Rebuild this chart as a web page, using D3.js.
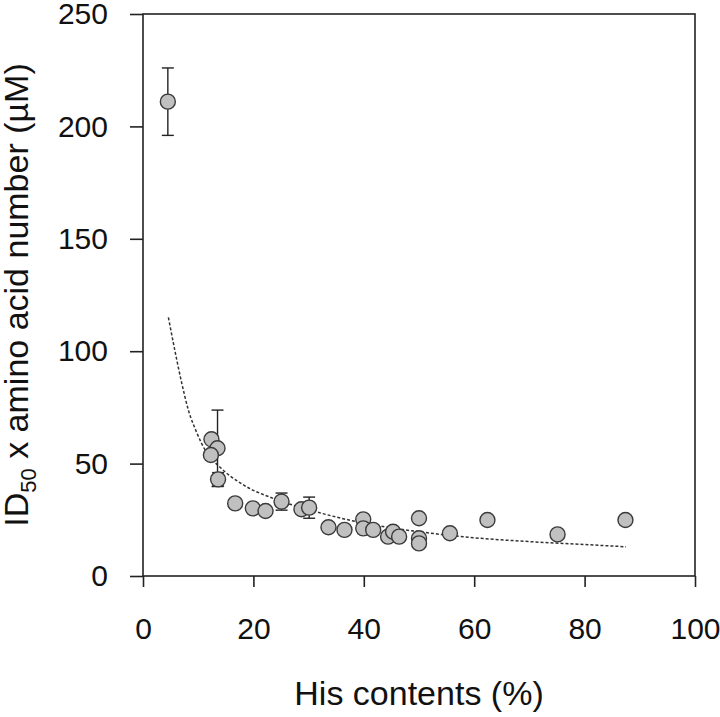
<!DOCTYPE html>
<html lang="en">
<head>
<meta charset="UTF-8">
<title>ID50 vs His contents</title>
<script src="https://d3js.org/d3.v7.min.js"></script>
<style>
    body { margin: 0; background: #fff; }
    text { font-family: "Liberation Sans", Arial, sans-serif; fill: #111; }
    .frame { fill: none; stroke: #222; stroke-width: 1.6px; }
    .dot { fill: #c0c0c0; stroke: #3a3a3a; stroke-width: 1.4px; }
    .err { stroke: #222; stroke-width: 1.4px; }
    .fit { fill: none; stroke: #333; stroke-width: 1.5px; stroke-dasharray: 3,2; }
</style>
</head>
<body>
<script>
    // measured points (His %, ID50 x aa number, error)
    const hisPct = [4.5, 12.4, 13.5, 12.3, 13.6, 16.7, 19.9, 22.2, 25.1, 28.7, 30.1,
        33.6, 36.5, 39.9, 39.9, 41.7, 44.4, 45.3, 46.4, 50.0, 50.0, 50.0, 55.6, 62.4, 75.1, 87.4];
    const idValue = [211, 60.8, 56.8, 53.8, 43.0, 32.3, 30.1, 28.9, 33.1, 29.7, 30.4,
        21.7, 20.5, 25.2, 21.2, 20.5, 17.5, 19.7, 17.5, 25.7, 16.8, 14.5, 19.0, 24.9, 18.5, 24.9];
    const idError = [15, 0, 17, 0, 3, 0, 0, 0, 3.8, 0, 4.7,
        0, 0, 0, 0, 0, 0, 0, 0, 0, 0, 0, 0, 0, 0, 2];

    // dashed fitted curve
    const fitX = [4.6, 5.8, 7, 8.2, 9.7, 11.5, 13.9, 18.2, 23.6, 30, 40, 50, 60, 70, 80, 87.5];
    const fitY = [115, 100, 86, 74, 64, 55, 48.5, 40.5, 34.5, 29.5, 23.5, 19.7, 17, 15.3, 14, 13];

    const xTicks = [0, 20, 40, 60, 80, 100];
    const yTicks = [0, 50, 100, 150, 200, 250];

    const width = 720, height = 717;
    const margin = { top: 14, right: 25, bottom: 141, left: 143 };

    const svg = d3.select("body").append("svg")
        .attr("width", width)
        .attr("height", height);

    const x = d3.scaleLinear().domain([0, 100]).range([margin.left, width - margin.right]);
    const y = d3.scaleLinear().domain([0, 250]).range([height - margin.bottom, margin.top]);

    // axes
    const xAxis = svg.append("g")
        .attr("transform", `translate(0,${y(0)})`)
        .call(d3.axisBottom(x).tickValues(xTicks).tickSize(11).tickPadding(31).tickSizeOuter(0));
    const yAxis = svg.append("g")
        .attr("transform", `translate(${x(0)},0)`)
        .call(d3.axisLeft(y).tickValues(yTicks).tickSize(13).tickPadding(22).tickSizeOuter(0));

    [xAxis, yAxis].forEach(a => {
        a.select(".domain").remove();
        a.selectAll(".tick line").attr("stroke", "#222").attr("stroke-width", 1.6);
        a.selectAll(".tick text").style("font-size", "30px").attr("fill", "#111");
    });

    svg.append("rect")
        .attr("class", "frame")
        .attr("x", x(0))
        .attr("y", y(250))
        .attr("width", x(100) - x(0))
        .attr("height", y(0) - y(250));

    // fitted curve
    const line = d3.line()
        .x((d, i) => x(fitX[i]))
        .y((d, i) => y(fitY[i]))
        .curve(d3.curveMonotoneX);
    svg.append("path")
        .attr("class", "fit")
        .attr("d", line(fitX));

    const data = hisPct.map((v, i) => ({ his: v, val: idValue[i], err: idError[i] }));

    // error bars
    const eb = svg.append("g").selectAll("g")
        .data(data.filter(d => d.err > 0))
        .join("g");
    eb.append("line").attr("class", "err")
        .attr("x1", d => x(d.his)).attr("x2", d => x(d.his))
        .attr("y1", d => y(d.val + d.err)).attr("y2", d => y(d.val - d.err));
    eb.append("line").attr("class", "err")
        .attr("x1", d => x(d.his) - 6).attr("x2", d => x(d.his) + 6)
        .attr("y1", d => y(d.val + d.err)).attr("y2", d => y(d.val + d.err));
    eb.append("line").attr("class", "err")
        .attr("x1", d => x(d.his) - 6).attr("x2", d => x(d.his) + 6)
        .attr("y1", d => y(d.val - d.err)).attr("y2", d => y(d.val - d.err));

    svg.append("g").selectAll("circle")
        .data(data)
        .join("circle")
        .attr("class", "dot")
        .attr("cx", d => x(d.his))
        .attr("cy", d => y(d.val))
        .attr("r", 7.5);

    // axis titles
    svg.append("text")
        .attr("x", (x(0) + x(100)) / 2)
        .attr("y", 705)
        .attr("text-anchor", "middle")
        .style("font-size", "34px")
        .text("His contents (%)");

    const yt = svg.append("text")
        .attr("transform", `translate(28,${(y(0) + y(250)) / 2}) rotate(-90)`)
        .attr("text-anchor", "middle")
        .style("font-size", "34px");
    yt.append("tspan").text("ID");
    yt.append("tspan").attr("dy", 8).style("font-size", "22px").text("50");
    yt.append("tspan").attr("dy", -8).text(" x amino acid number (\u00b5M)");
</script>
</body>
</html>
